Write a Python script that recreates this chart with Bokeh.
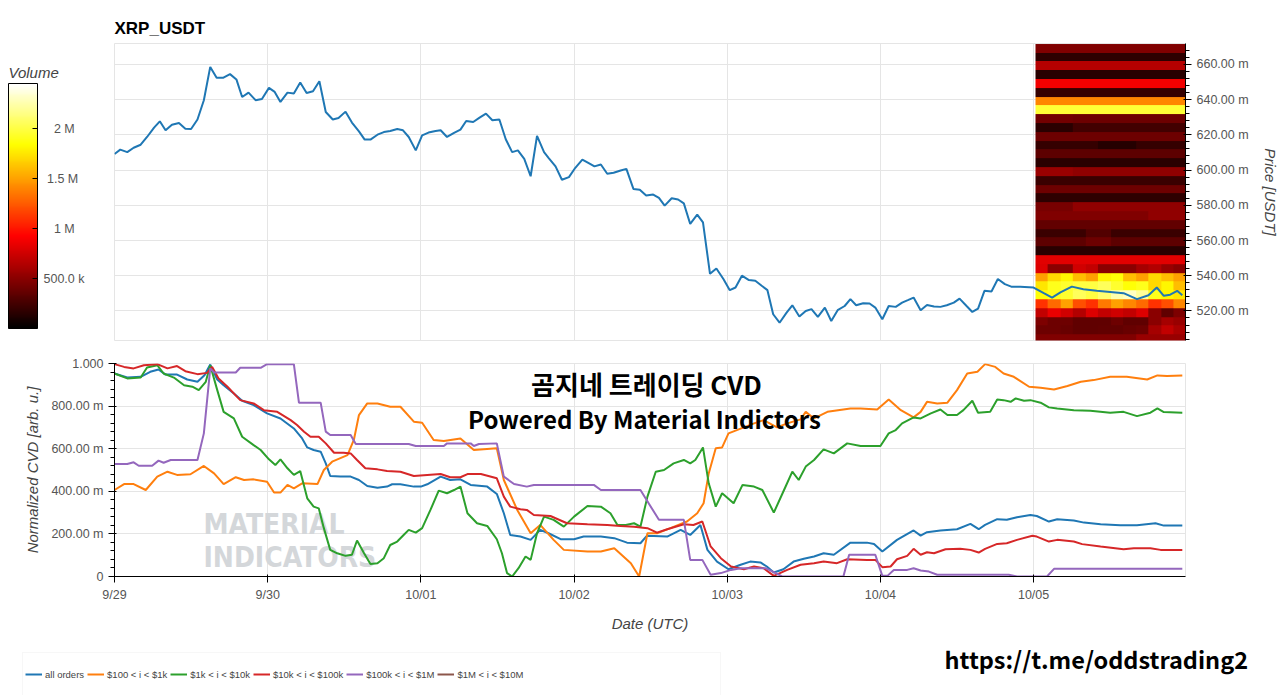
from datetime import datetime, timezone
import numpy as np
from bokeh.plotting import figure
from bokeh.layouts import column, row
from bokeh.models import (Range1d, FixedTicker, CustomJSTickFormatter, LinearColorMapper,
                          ColorBar, Label, Legend, LegendItem, Grid, BoxAnnotation)
from bokeh.embed import file_html
from bokeh.resources import INLINE

# ---------------- data ----------------
# hours since 2018-09-29 00:00 UTC, price in mUSDT
price_h = [0, 0.9, 2.0, 3.0, 4.1, 5.1, 6.2, 7.1, 8.0, 9.0,
           10.1, 11.1, 12.0, 13.0, 14.0, 15.0, 16.0, 17.0, 18.1, 19.1,
           20.0, 21.0, 22.1, 23.1, 24.2, 25.1, 26.0, 27.1, 28.1, 29.1,
           30.1, 31.1, 32.1, 33.1, 34.2, 35.1, 36.2, 37.2, 38.3, 39.2,
           40.1, 41.2, 42.2, 43.2, 44.3, 45.2, 46.1, 47.2, 48.2, 49.2,
           50.3, 51.1, 52.1, 53.2, 54.2, 55.1, 56.2, 57.2, 58.2, 59.2,
           60.3, 61.3, 62.3, 63.2, 64.2, 65.2, 66.2, 67.3, 68.0, 69.1,
           70.1, 71.2, 72.2, 73.3, 74.3, 75.2, 76.2, 77.2, 78.2, 79.3,
           80.2, 81.3, 82.3, 83.3, 84.4, 85.3, 86.2, 87.3, 88.3, 89.2,
           90.2, 91.3, 92.2, 93.3, 94.3, 95.4, 96.4, 97.3, 98.3, 99.4,
           100.4, 101.4, 102.3, 103.2, 104.2, 105.3, 106.2, 107.3, 108.3, 109.2,
           110.2, 111.3, 112.3, 113.3, 114.4, 115.3, 116.2, 117.3, 118.3, 119.2,
           120.3, 121.3, 122.4, 123.4, 124.3, 125.2, 126.3, 127.3, 128.4, 129.4,
           130.4, 131.5, 132.4, 133.5, 134.4, 135.3, 136.3, 137.4, 138.4, 139.5,
           140.5, 141.9, 144.0, 145.6, 146.9, 148.2, 150.0, 151.8, 153.9, 156.0,
           158.1, 160.2, 162.0, 163.3, 164.4, 165.4, 166.5, 167.3]
price_m = [609.1, 611.6, 610.2, 612.7, 614.4, 618.8, 624.1, 627.7, 622.6, 625.8,
           626.7, 623.5, 623.3, 628.7, 639.7, 658.6, 652.4, 652.4, 654.5, 651.5,
           641.5, 644.0, 639.7, 640.4, 646.7, 644.4, 638.7, 644.0, 643.5, 649.7,
           643.8, 644.8, 650.5, 633.0, 628.7, 629.6, 633.2, 627.0, 622.0, 617.3,
           617.3, 620.1, 621.6, 622.2, 623.3, 622.6, 618.8, 611.2, 619.7, 621.3,
           622.2, 622.6, 618.8, 621.1, 623.0, 627.9, 627.3, 629.8, 632.1, 628.3,
           628.7, 617.5, 610.2, 611.2, 606.4, 596.5, 619.4, 610.2, 607.0, 602.1,
           594.5, 596.0, 601.3, 605.9, 603.9, 602.1, 603.2, 597.9, 598.5, 599.8,
           600.7, 589.3, 588.8, 585.5, 586.1, 584.2, 579.8, 584.0, 583.3, 581.1,
           569.4, 574.7, 570.3, 541.1, 544.1, 538.1, 531.8, 533.3, 540.0, 537.5,
           537.1, 534.3, 531.8, 518.1, 513.3, 519.0, 523.2, 516.8, 520.0, 521.0,
           516.6, 521.9, 514.3, 520.4, 522.8, 526.7, 523.2, 524.4, 524.2, 521.9,
           515.3, 522.8, 522.3, 524.7, 526.1, 527.6, 520.4, 523.4, 522.5, 522.3,
           523.2, 524.7, 527.0, 522.8, 519.4, 521.3, 531.4, 531.0, 538.1, 535.2,
           533.8, 533.8, 533.3, 530.1, 527.6, 530.5, 533.8, 532.3, 531.4, 530.8,
           530.1, 526.7, 528.9, 533.3, 528.6, 529.2, 531.4, 528.9]

blue_h = [0, 2.0, 4.1, 5.6, 6.9, 8.0, 9.8, 11.4, 13.0, 14.1,
          15.0, 16.1, 17.1, 18.7, 20.0, 21.8, 23.9, 26.0, 28.1, 29.4,
          30.2, 31.2, 32.3, 33.1, 33.8, 35.4, 37.0, 38.3, 39.6, 41.2,
          42.7, 43.5, 44.8, 46.9, 48.0, 49.0, 51.1, 52.6, 54.2, 55.8,
          58.4, 59.9, 61.0, 62.0, 63.6, 65.2, 66.7, 68.0, 69.9, 72.0,
          73.5, 76.2, 78.3, 80.3, 82.4, 83.4, 86.6, 88.7, 90.2, 91.8,
          92.9, 94.4, 96.2, 98.1, 99.6, 101.2, 102.2, 103.3, 104.8, 106.4,
          108.0, 109.6, 111.1, 112.7, 115.3, 117.9, 119.0, 120.3, 122.6, 125.2,
          126.3, 127.3, 129.4, 132.0, 134.1, 135.4, 136.4, 138.3, 139.8, 141.4,
          143.5, 144.5, 146.4, 147.7, 150.3, 151.9, 154.5, 157.6, 160.2, 163.1,
          164.4, 167.3]
blue_v = [0.953, 0.934, 0.9375, 0.961, 0.972, 0.948, 0.948, 0.925, 0.914, 0.945,
          0.995, 0.925, 0.898, 0.859, 0.825, 0.805, 0.766, 0.742, 0.695, 0.648,
          0.606, 0.594, 0.586, 0.531, 0.472, 0.469, 0.469, 0.453, 0.425, 0.417,
          0.422, 0.433, 0.433, 0.422, 0.422, 0.433, 0.469, 0.453, 0.456, 0.430,
          0.422, 0.3875, 0.297, 0.195, 0.1875, 0.172, 0.219, 0.203, 0.175, 0.175,
          0.1875, 0.1875, 0.180, 0.159, 0.156, 0.191, 0.1875, 0.219, 0.195, 0.242,
          0.125, 0.070, 0.034, 0.055, 0.070, 0.066, 0.047, 0.019, 0.034, 0.070,
          0.083, 0.094, 0.109, 0.102, 0.159, 0.159, 0.153, 0.117, 0.172, 0.216,
          0.192, 0.208, 0.216, 0.222, 0.247, 0.222, 0.242, 0.269, 0.266, 0.278,
          0.289, 0.284, 0.258, 0.269, 0.2625, 0.253, 0.245, 0.241, 0.241, 0.25,
          0.239, 0.239]

orange_h = [0, 1.5, 3.0, 4.9, 6.7, 8.3, 9.8, 11.9, 14.0, 15.6,
            17.1, 19.0, 20.3, 21.8, 23.9, 25.0, 26.0, 27.1, 28.1, 29.4,
            31.8, 32.8, 34.1, 36.5, 37.5, 38.3, 39.6, 41.2, 43.2, 44.8,
            46.9, 48.2, 50.0, 51.6, 54.2, 56.3, 59.9, 61.0, 63.1, 65.2,
            66.7, 68.8, 70.4, 74.1, 76.2, 78.3, 80.9, 82.2, 83.5, 85.0,
            87.1, 89.7, 91.3, 92.3, 93.1, 94.2, 95.2, 96.2, 98.6, 100.2,
            101.7, 103.8, 105.4, 107.5, 108.3, 109.6, 111.7, 115.3, 116.9, 119.5,
            121.3, 123.2, 125.2, 126.3, 127.3, 128.9, 130.5, 132.0, 133.6, 135.2,
            136.4, 138.0, 139.3, 140.9, 143.3, 145.1, 147.2, 149.3, 151.4, 153.4,
            156.0, 158.6, 161.8, 163.4, 164.9, 167.3]
orange_v = [0.406, 0.434, 0.434, 0.406, 0.469, 0.492, 0.477, 0.480, 0.519, 0.484,
            0.434, 0.466, 0.453, 0.456, 0.445, 0.394, 0.394, 0.430, 0.414, 0.4375,
            0.434, 0.500, 0.539, 0.570, 0.641, 0.758, 0.8125, 0.8125, 0.797, 0.797,
            0.727, 0.722, 0.641, 0.636, 0.648, 0.594, 0.602, 0.453, 0.3125, 0.203,
            0.242, 0.172, 0.125, 0.117, 0.117, 0.133, 0.0625, 0.0, 0.203, 0.203,
            0.227, 0.258, 0.297, 0.344, 0.484, 0.602, 0.606, 0.672, 0.700, 0.719,
            0.734, 0.700, 0.719, 0.7375, 0.773, 0.742, 0.773, 0.789, 0.789, 0.784,
            0.831, 0.781, 0.747, 0.773, 0.820, 0.8125, 0.816, 0.875, 0.953, 0.961,
            0.997, 0.984, 0.953, 0.9375, 0.891, 0.886, 0.878, 0.894, 0.914, 0.922,
            0.9375, 0.9375, 0.925, 0.944, 0.941, 0.944]

green_h = [0, 2.0, 4.1, 5.1, 6.7, 7.7, 9.3, 10.9, 12.2, 13.2,
           14.3, 15.0, 16.1, 17.1, 18.7, 20.0, 21.8, 22.9, 24.2, 25.2,
           26.0, 27.1, 28.1, 29.1, 30.2, 31.2, 32.0, 32.8, 33.8, 34.9,
           36.2, 37.2, 38.0, 39.1, 40.1, 41.2, 42.2, 43.2, 44.3, 45.3,
           46.1, 47.2, 48.2, 49.5, 50.8, 52.1, 53.2, 54.2, 55.3, 56.8,
           58.4, 59.9, 60.7, 61.5, 62.3, 63.3, 64.4, 65.2, 66.2, 67.3,
           68.8, 70.4, 72.0, 74.1, 76.2, 77.7, 78.8, 80.1, 81.4, 82.4,
           83.5, 84.8, 86.1, 87.6, 89.2, 90.2, 91.0, 92.2, 93.1, 94.2,
           95.2, 97.0, 98.4, 100.2, 101.5, 103.3, 104.9, 106.2, 107.2, 108.3,
           109.6, 111.1, 112.7, 114.8, 116.9, 120.0, 121.3, 122.4, 123.4, 125.2,
           126.3, 127.9, 129.4, 130.5, 132.0, 133.0, 134.4, 135.3, 137.2, 138.3,
           139.3, 140.4, 141.2, 142.5, 143.5, 145.1, 146.4, 147.7, 150.3, 152.9,
           156.0, 158.1, 160.2, 162.3, 163.4, 164.4, 167.3]
green_v = [0.953, 0.930, 0.934, 0.981, 0.992, 0.953, 0.934, 0.898, 0.891, 0.875,
           0.914, 0.992, 0.875, 0.773, 0.742, 0.656, 0.617, 0.594, 0.550, 0.523,
           0.550, 0.508, 0.477, 0.495, 0.367, 0.328, 0.320, 0.227, 0.125, 0.109,
           0.097, 0.102, 0.169, 0.109, 0.059, 0.0625, 0.086, 0.148, 0.164, 0.195,
           0.219, 0.206, 0.227, 0.3125, 0.403, 0.391, 0.406, 0.422, 0.297, 0.250,
           0.2375, 0.175, 0.109, 0.016, 0.0, 0.039, 0.094, 0.078, 0.203, 0.281,
           0.266, 0.234, 0.281, 0.331, 0.328, 0.297, 0.242, 0.242, 0.250, 0.234,
           0.375, 0.492, 0.500, 0.531, 0.547, 0.531, 0.547, 0.606, 0.4375, 0.328,
           0.391, 0.344, 0.430, 0.422, 0.406, 0.300, 0.406, 0.492, 0.453, 0.516,
           0.547, 0.597, 0.578, 0.625, 0.6125, 0.6125, 0.672, 0.6875, 0.719, 0.747,
           0.742, 0.766, 0.784, 0.758, 0.758, 0.781, 0.825, 0.769, 0.773, 0.831,
           0.828, 0.820, 0.836, 0.825, 0.828, 0.816, 0.794, 0.789, 0.781, 0.778,
           0.769, 0.773, 0.753, 0.769, 0.789, 0.772, 0.769]

red_h = [0, 1.5, 3.0, 4.6, 6.7, 8.3, 9.8, 11.1, 13.0, 14.5,
         15.3, 16.3, 17.7, 19.7, 21.8, 23.4, 25.5, 27.6, 28.6, 29.7,
         30.7, 32.0, 33.1, 34.4, 35.9, 37.0, 38.0, 39.3, 41.2, 42.7,
         44.8, 46.9, 49.0, 51.1, 52.6, 54.2, 55.3, 57.4, 59.9, 61.0,
         62.0, 63.6, 64.6, 65.7, 68.3, 70.9, 74.1, 77.2, 79.3, 81.4,
         83.5, 85.0, 86.6, 89.2, 90.7, 92.1, 93.4, 95.0, 96.6, 98.6,
         100.2, 101.7, 103.3, 105.4, 107.5, 109.6, 111.1, 113.2, 114.8, 117.9,
         119.2, 120.3, 121.6, 122.6, 124.2, 125.2, 126.3, 127.3, 128.4, 130.2,
         132.5, 134.1, 135.4, 136.4, 138.3, 139.8, 141.4, 143.8, 144.5, 146.4,
         147.7, 150.3, 151.6, 154.5, 158.1, 159.7, 162.3, 163.9, 167.3]
red_v = [0.997, 0.984, 0.977, 0.992, 0.997, 0.977, 0.988, 0.964, 0.950, 0.956,
         0.984, 0.930, 0.891, 0.828, 0.8125, 0.781, 0.773, 0.734, 0.711, 0.680,
         0.656, 0.656, 0.625, 0.581, 0.581, 0.578, 0.547, 0.508, 0.503, 0.495,
         0.492, 0.472, 0.477, 0.481, 0.466, 0.466, 0.481, 0.481, 0.461, 0.375,
         0.328, 0.316, 0.3125, 0.289, 0.284, 0.250, 0.245, 0.242, 0.2375, 0.234,
         0.227, 0.206, 0.222, 0.245, 0.242, 0.258, 0.141, 0.086, 0.047, 0.034,
         0.047, 0.039, 0.003, 0.031, 0.055, 0.0625, 0.070, 0.0625, 0.081, 0.078,
         0.078, 0.044, 0.047, 0.081, 0.097, 0.130, 0.102, 0.114, 0.109, 0.128,
         0.130, 0.125, 0.1125, 0.130, 0.153, 0.156, 0.172, 0.191, 0.1875, 0.164,
         0.172, 0.164, 0.152, 0.141, 0.128, 0.133, 0.133, 0.125, 0.125]

purple_h = [0, 2.0, 3.0, 3.8, 5.9, 6.9, 7.7, 8.8, 13.0, 14.0,
            15.0, 15.6, 19.0, 19.7, 22.9, 23.9, 28.1, 28.9, 32.3, 33.1,
            33.8, 37.0, 37.8, 46.1, 47.2, 51.6, 52.1, 55.8, 56.3, 57.1,
            59.9, 61.0, 62.6, 64.6, 65.7, 75.1, 76.2, 82.4, 85.3, 89.2,
            90.2, 92.1, 93.4, 95.0, 96.6, 98.1, 102.0, 103.6, 104.6, 114.2,
            115.1, 119.2, 120.3, 121.1, 122.1, 124.2, 125.2, 126.3, 127.6, 128.9,
            140.1, 141.4, 146.1, 147.2, 167.3]
purple_v = [0.528, 0.528, 0.536, 0.520, 0.520, 0.544, 0.534, 0.547, 0.547, 0.672,
            0.977, 0.958, 0.958, 0.980, 0.980, 0.997, 0.997, 0.816, 0.816, 0.680,
            0.664, 0.664, 0.622, 0.622, 0.6125, 0.6125, 0.625, 0.625, 0.6125, 0.622,
            0.625, 0.469, 0.434, 0.422, 0.430, 0.430, 0.406, 0.406, 0.266, 0.266,
            0.078, 0.078, 0.008, 0.016, 0.031, 0.039, 0.039, 0.016, 0.0, 0.0,
            0.102, 0.102, 0.003, 0.003, 0.031, 0.031, 0.039, 0.028, 0.023, 0.008,
            0.008, 0.0, 0.0, 0.036, 0.036]

brown_h = []
brown_v = []

series_labels = ["all orders", "$100 < i < $1k", "$1k < i < $10k",
                 "$10k < i < $100k", "$100k < i < $1M", "$1M < i < $10M"]

# volume heat map, rows from top (671.6 m) to bottom (501.6 m), 5 m bins, 12 two-hour columns, in M
vol_rows = [
    [0.46, 0.46, 0.46, 0.46, 0.46, 0.46, 0.46, 0.46, 0.46, 0.46, 0.46, 0.46],
    [0.17, 0.17, 0.17, 0.17, 0.17, 0.17, 0.17, 0.17, 0.17, 0.17, 0.17, 0.17],
    [0.66, 0.66, 0.66, 0.66, 0.66, 0.66, 0.66, 0.66, 0.66, 0.66, 0.66, 0.66],
    [0.15, 0.15, 0.15, 0.15, 0.15, 0.15, 0.15, 0.15, 0.15, 0.15, 0.15, 0.15],
    [0.88, 0.88, 0.88, 0.88, 0.88, 0.88, 0.88, 0.88, 0.88, 0.88, 0.88, 0.88],
    [0.20, 0.20, 0.20, 0.20, 0.20, 0.20, 0.20, 0.20, 0.20, 0.20, 0.20, 0.20],
    [1.40, 1.40, 1.40, 1.40, 1.40, 1.40, 1.40, 1.40, 1.40, 1.40, 1.40, 1.40],
    [1.97, 1.97, 1.97, 1.97, 1.97, 1.97, 1.97, 1.97, 1.97, 1.97, 1.97, 1.97],
    [0.42, 0.42, 0.42, 0.40, 0.40, 0.40, 0.40, 0.40, 0.40, 0.40, 0.40, 0.40],
    [0.16, 0.16, 0.16, 0.24, 0.24, 0.24, 0.24, 0.24, 0.24, 0.24, 0.24, 0.24],
    [0.40, 0.40, 0.40, 0.40, 0.40, 0.40, 0.40, 0.40, 0.40, 0.40, 0.40, 0.40],
    [0.20, 0.20, 0.20, 0.20, 0.20, 0.14, 0.14, 0.14, 0.20, 0.20, 0.20, 0.20],
    [0.34, 0.34, 0.34, 0.34, 0.34, 0.34, 0.34, 0.34, 0.34, 0.34, 0.34, 0.34],
    [0.16, 0.16, 0.16, 0.16, 0.16, 0.16, 0.16, 0.16, 0.16, 0.16, 0.16, 0.16],
    [0.56, 0.56, 0.56, 0.52, 0.52, 0.52, 0.52, 0.52, 0.52, 0.52, 0.52, 0.52],
    [0.22, 0.22, 0.22, 0.22, 0.22, 0.22, 0.22, 0.22, 0.22, 0.22, 0.22, 0.22],
    [0.40, 0.40, 0.40, 0.40, 0.40, 0.40, 0.40, 0.40, 0.40, 0.40, 0.40, 0.40],
    [0.17, 0.17, 0.17, 0.17, 0.17, 0.17, 0.17, 0.17, 0.17, 0.17, 0.17, 0.17],
    [0.44, 0.44, 0.44, 0.52, 0.52, 0.52, 0.52, 0.52, 0.52, 0.52, 0.52, 0.52],
    [0.46, 0.46, 0.46, 0.46, 0.46, 0.46, 0.46, 0.46, 0.46, 0.52, 0.52, 0.52],
    [0.36, 0.36, 0.36, 0.36, 0.36, 0.36, 0.36, 0.36, 0.36, 0.36, 0.36, 0.36],
    [0.22, 0.22, 0.22, 0.22, 0.30, 0.30, 0.22, 0.22, 0.22, 0.22, 0.22, 0.22],
    [0.34, 0.34, 0.34, 0.34, 0.40, 0.40, 0.34, 0.34, 0.34, 0.34, 0.34, 0.34],
    [0.15, 0.15, 0.15, 0.15, 0.15, 0.15, 0.15, 0.15, 0.15, 0.15, 0.15, 0.15],
    [0.82, 0.82, 0.82, 0.82, 0.82, 0.82, 0.82, 0.82, 0.82, 0.82, 0.82, 0.82],
    [0.80, 0.50, 0.50, 0.75, 0.70, 0.50, 0.50, 0.50, 0.60, 0.65, 0.55, 0.50],
    [1.50, 1.70, 1.80, 1.60, 1.50, 1.80, 1.85, 1.60, 1.50, 1.70, 1.60, 1.50],
    [1.75, 1.90, 1.95, 2.00, 2.00, 2.05, 1.95, 1.85, 1.90, 1.70, 1.80, 1.60],
    [1.85, 1.90, 1.95, 2.05, 2.00, 2.10, 2.25, 2.30, 2.20, 1.90, 1.80, 1.75],
    [1.10, 1.30, 1.50, 1.20, 1.10, 1.35, 1.50, 1.40, 1.30, 1.10, 1.20, 1.40],
    [0.70, 0.85, 0.75, 0.65, 0.80, 0.70, 0.75, 0.70, 0.80, 0.50, 0.35, 0.45],
    [0.45, 0.40, 0.40, 0.35, 0.35, 0.35, 0.40, 0.35, 0.35, 0.50, 0.60, 0.55],
    [0.40, 0.40, 0.38, 0.35, 0.35, 0.36, 0.36, 0.38, 0.40, 0.60, 0.70, 0.62],
    [0.46, 0.46, 0.46, 0.46, 0.46, 0.46, 0.46, 0.46, 0.55, 0.55, 0.55, 0.55],
]
heat_bottom_m = 501.6
heat_bin_m = 5.0
heat_start_h = 144.3
heat_end_h = 167.8
vol_max = 2.45e6

x_end_h = 167.8
price_ticks_m = [520, 540, 560, 580, 600, 620, 640, 660]
cvd_ticks = [0, 0.2, 0.4, 0.6, 0.8, 1.0]
vol_ticks = [500000, 1000000, 1500000, 2000000]

# ---------------- helpers ----------------
T0 = datetime(2018, 9, 29, tzinfo=timezone.utc).timestamp() * 1000.0
HOUR = 3600000.0


def tms(hs):
    return [T0 + h * HOUR for h in hs]


day_ticks = [T0 + d * 24 * HOUR for d in range(7)]
date_fmt = CustomJSTickFormatter(code="""
const d = new Date(tick);
const m = d.getUTCMonth() + 1;
const dd = d.getUTCDate();
return m + "/" + (dd < 10 ? "0" + dd : "" + dd);
""")

# hot palette
pal = []
for i in range(256):
    t = i / 255.0
    r = min(1.0, t / 0.375)
    g = min(1.0, max(0.0, (t - 0.375) / 0.375))
    b = min(1.0, max(0.0, (t - 0.75) / 0.25))
    pal.append("#%02x%02x%02x" % (int(r * 255), int(g * 255), int(b * 255)))
mapper = LinearColorMapper(palette=pal, low=0, high=vol_max)

FONT = "Liberation Sans"
TICK_SIZE = "12.5px"
LABEL_SIZE = "15px"
TICK_COLOR = "#555555"

x_range = Range1d(T0, T0 + x_end_h * HOUR)

CB_W = 100        # width of the colour-bar strip at the left
TOP_B, FRAME_H1, BOT_B = 43, 297, 5

# ---------------- colour bar strip ----------------
pc = figure(frame_width=CB_W, frame_height=FRAME_H1, x_range=Range1d(0, 1), y_range=Range1d(0, 1),
            x_axis_location=None, y_axis_location=None, output_backend="svg",
            toolbar_location=None, min_border_left=0, min_border_right=0,
            min_border_top=TOP_B, min_border_bottom=BOT_B, outline_line_color=None)
pc.grid.visible = False
# labels are padded with no-break spaces so that they sit centred, as in the original
cb = ColorBar(color_mapper=mapper, location=(8, 12), width=29, height=245,
              padding=0, ticker=FixedTicker(ticks=vol_ticks, minor_ticks=[]),
              formatter=CustomJSTickFormatter(code="""
const nb = "\\u00a0";
if (tick >= 1e6) {
  const s = (tick/1e6) + " M";
  return (s.length <= 3 ? nb + nb + nb : nb) + s;
}
return (tick/1e3).toFixed(1) + " k";
"""),
              major_label_text_font_size=TICK_SIZE, major_label_text_font=FONT,
              major_label_text_color=TICK_COLOR, label_standoff=6,
              bar_line_color="black", major_tick_line_color="black",
              background_fill_alpha=0, border_line_alpha=0)
pc.add_layout(cb, "center")
pc.add_layout(Label(x=8, y=FRAME_H1 + TOP_B - 72, x_units="screen", y_units="screen", text="Volume",
                    text_font=FONT, text_font_style="italic", text_font_size=LABEL_SIZE,
                    text_color="#444444", text_baseline="middle"))

# ---------------- top: price + heatmap ----------------
p1 = figure(frame_width=1071, frame_height=FRAME_H1, x_range=x_range,
            y_range=Range1d(0.5032, 0.6719), x_axis_type="datetime",
            x_axis_location=None, y_axis_location="right",
            output_backend="svg", toolbar_location=None, title="XRP_USDT",
            min_border_left=114 - CB_W, min_border_top=TOP_B, min_border_bottom=BOT_B,
            min_border_right=10)
p1.title.text_font = FONT
p1.title.text_font_size = "17px"
p1.title.text_color = "black"
p1.title.text_font_style = "bold"
p1.title.standoff = 12

if len(p1.xgrid) == 0:
    p1.add_layout(Grid(dimension=0, ticker=FixedTicker(ticks=day_ticks)), "center")
else:
    p1.xgrid.ticker = FixedTicker(ticks=day_ticks)

ya = p1.yaxis[0]
ya.ticker = FixedTicker(ticks=[v / 1000.0 for v in price_ticks_m],
                        minor_ticks=[0.504 + 0.004 * k for k in range(43)])
ya.formatter = CustomJSTickFormatter(code="return (tick*1000).toFixed(2) + ' m';")
ya.axis_label = "Price [USDT]"
ya.axis_label_text_font_style = "italic"
ya.axis_label_text_font_size = LABEL_SIZE
ya.axis_label_text_font = FONT
ya.axis_label_standoff = 10
ya.major_label_text_font_size = TICK_SIZE
ya.major_label_text_font = FONT
ya.major_label_text_color = TICK_COLOR

heat = np.array(vol_rows[::-1]) * 1e6
p1.image(image=[heat], x=T0 + heat_start_h * HOUR, y=heat_bottom_m / 1000.0,
         dw=(heat_end_h - heat_start_h) * HOUR, dh=heat_bin_m * len(vol_rows) / 1000.0,
         color_mapper=mapper)
p1.line(tms(price_h), [v / 1000.0 for v in price_m], color="#1f77b4", line_width=2)

# ---------------- bottom: CVD ----------------
p2 = figure(frame_width=1071, frame_height=213, x_range=x_range, y_range=Range1d(0, 1),
            x_axis_type="datetime", output_backend="svg", toolbar_location=None,
            min_border_left=114, min_border_top=18, min_border_bottom=64,
            min_border_right=30)

xa = p2.xaxis[0]
xa.ticker = FixedTicker(ticks=day_ticks, minor_ticks=[])
xa.formatter = date_fmt
xa.axis_label = "Date (UTC)"
xa.axis_label_standoff = 10
ya2 = p2.yaxis[0]
ya2.ticker = FixedTicker(ticks=cvd_ticks, minor_ticks=[0.04 * k for k in range(26)])
ya2.formatter = CustomJSTickFormatter(code="""
if (Math.abs(tick) < 1e-9) { return "0"; }
if (Math.abs(tick - 1) < 1e-9) { return "1.000"; }
return (tick*1000).toFixed(2) + " m";
""")
ya2.axis_label = "Normalized CVD [arb. u.]"
ya2.axis_label_standoff = 7
for ax in (xa, ya2):
    ax.axis_label_text_font_style = "italic"
    ax.axis_label_text_font_size = LABEL_SIZE
    ax.axis_label_text_font = FONT
    ax.major_label_text_font_size = TICK_SIZE
    ax.major_label_text_font = FONT
    ax.major_label_text_color = TICK_COLOR

# watermark (behind lines)
for txt, yy in (("MATERIAL", 52.5), ("INDICATORS", 19.5)):
    p2.add_layout(Label(x=89, y=yy, x_units="screen", y_units="screen", text=txt,
                        text_font="DejaVu Sans Condensed", text_font_style="bold",
                        text_font_size="28px", text_color="#d4d7da",
                        text_baseline="middle", level="underlay"))

colors = ["#1f77b4", "#ff7f0e", "#2ca02c", "#d62728", "#9467bd", "#8c564b"]
all_series = [(blue_h, blue_v), (orange_h, orange_v), (green_h, green_v),
              (red_h, red_v), (purple_h, purple_v), (brown_h, brown_v)]
for (hs, vs), c in zip(all_series, colors):
    p2.line(tms(hs), vs, color=c, line_width=2)

# overlay text
p2.add_layout(Label(x=532, y=193.5, x_units="screen", y_units="screen",
                    text="곰지네 트레이딩 CVD", text_font="Noto Sans CJK KR",
                    text_font_style="bold", text_font_size="26px", text_color="black",
                    text_align="center", text_baseline="middle"))
p2.add_layout(Label(x=530, y=158.5, x_units="screen", y_units="screen",
                    text="Powered By Material Indictors", text_font="Noto Sans CJK KR",
                    text_font_style="bold", text_font_size="24px", text_color="black",
                    text_align="center", text_baseline="middle"))

# ---------------- legend strip (two small panels side by side) ----------------
LEG_H = 55
LEG_W = 730
p3a = figure(frame_width=LEG_W, frame_height=LEG_H, x_range=Range1d(0, 1), y_range=Range1d(0, 1),
             x_axis_location=None, y_axis_location=None, output_backend="svg",
             toolbar_location=None, min_border=0, outline_line_color=None)
p3a.grid.visible = False
p3a.add_layout(BoxAnnotation(left=22, right=720, top=LEG_H - 12, bottom=-5,
                             left_units="screen", right_units="screen",
                             top_units="screen", bottom_units="screen",
                             fill_color="white", fill_alpha=1.0,
                             line_color="#e5e5e5", line_width=1))
# legend keys (no data of their own; they only carry the series styles)
proxies = [p3a.line([float("nan")], [float("nan")], color=c, line_width=2) for c in colors]
legend = Legend(items=[LegendItem(label=l, renderers=[r]) for l, r in zip(series_labels, proxies)],
                orientation="horizontal", location=(22, 8),
                label_text_font=FONT, label_text_font_size="9.5px",
                label_text_color="#444444",
                glyph_width=17, glyph_height=20, label_standoff=3, spacing=3,
                padding=3, margin=0, border_line_alpha=0, background_fill_alpha=0)
p3a.add_layout(legend, "center")

p3b = figure(frame_width=1264 - LEG_W, frame_height=LEG_H, x_range=Range1d(0, 1),
             y_range=Range1d(0, 1), x_axis_location=None, y_axis_location=None,
             output_backend="svg", toolbar_location=None, min_border=0,
             outline_line_color=None)
p3b.grid.visible = False
p3b.add_layout(Label(x=944 - LEG_W, y=LEG_H - 18, x_units="screen", y_units="screen",
                     text="https://t.me/oddstrading2", text_font="Noto Sans CJK KR",
                     text_font_style="bold", text_font_size="23.5px", text_color="black",
                     text_align="left", text_baseline="middle"))

layout = column(row(pc, p1, spacing=0), p2, row(p3a, p3b, spacing=0), spacing=0)
open("out.html", "w").write(file_html(layout, INLINE))
